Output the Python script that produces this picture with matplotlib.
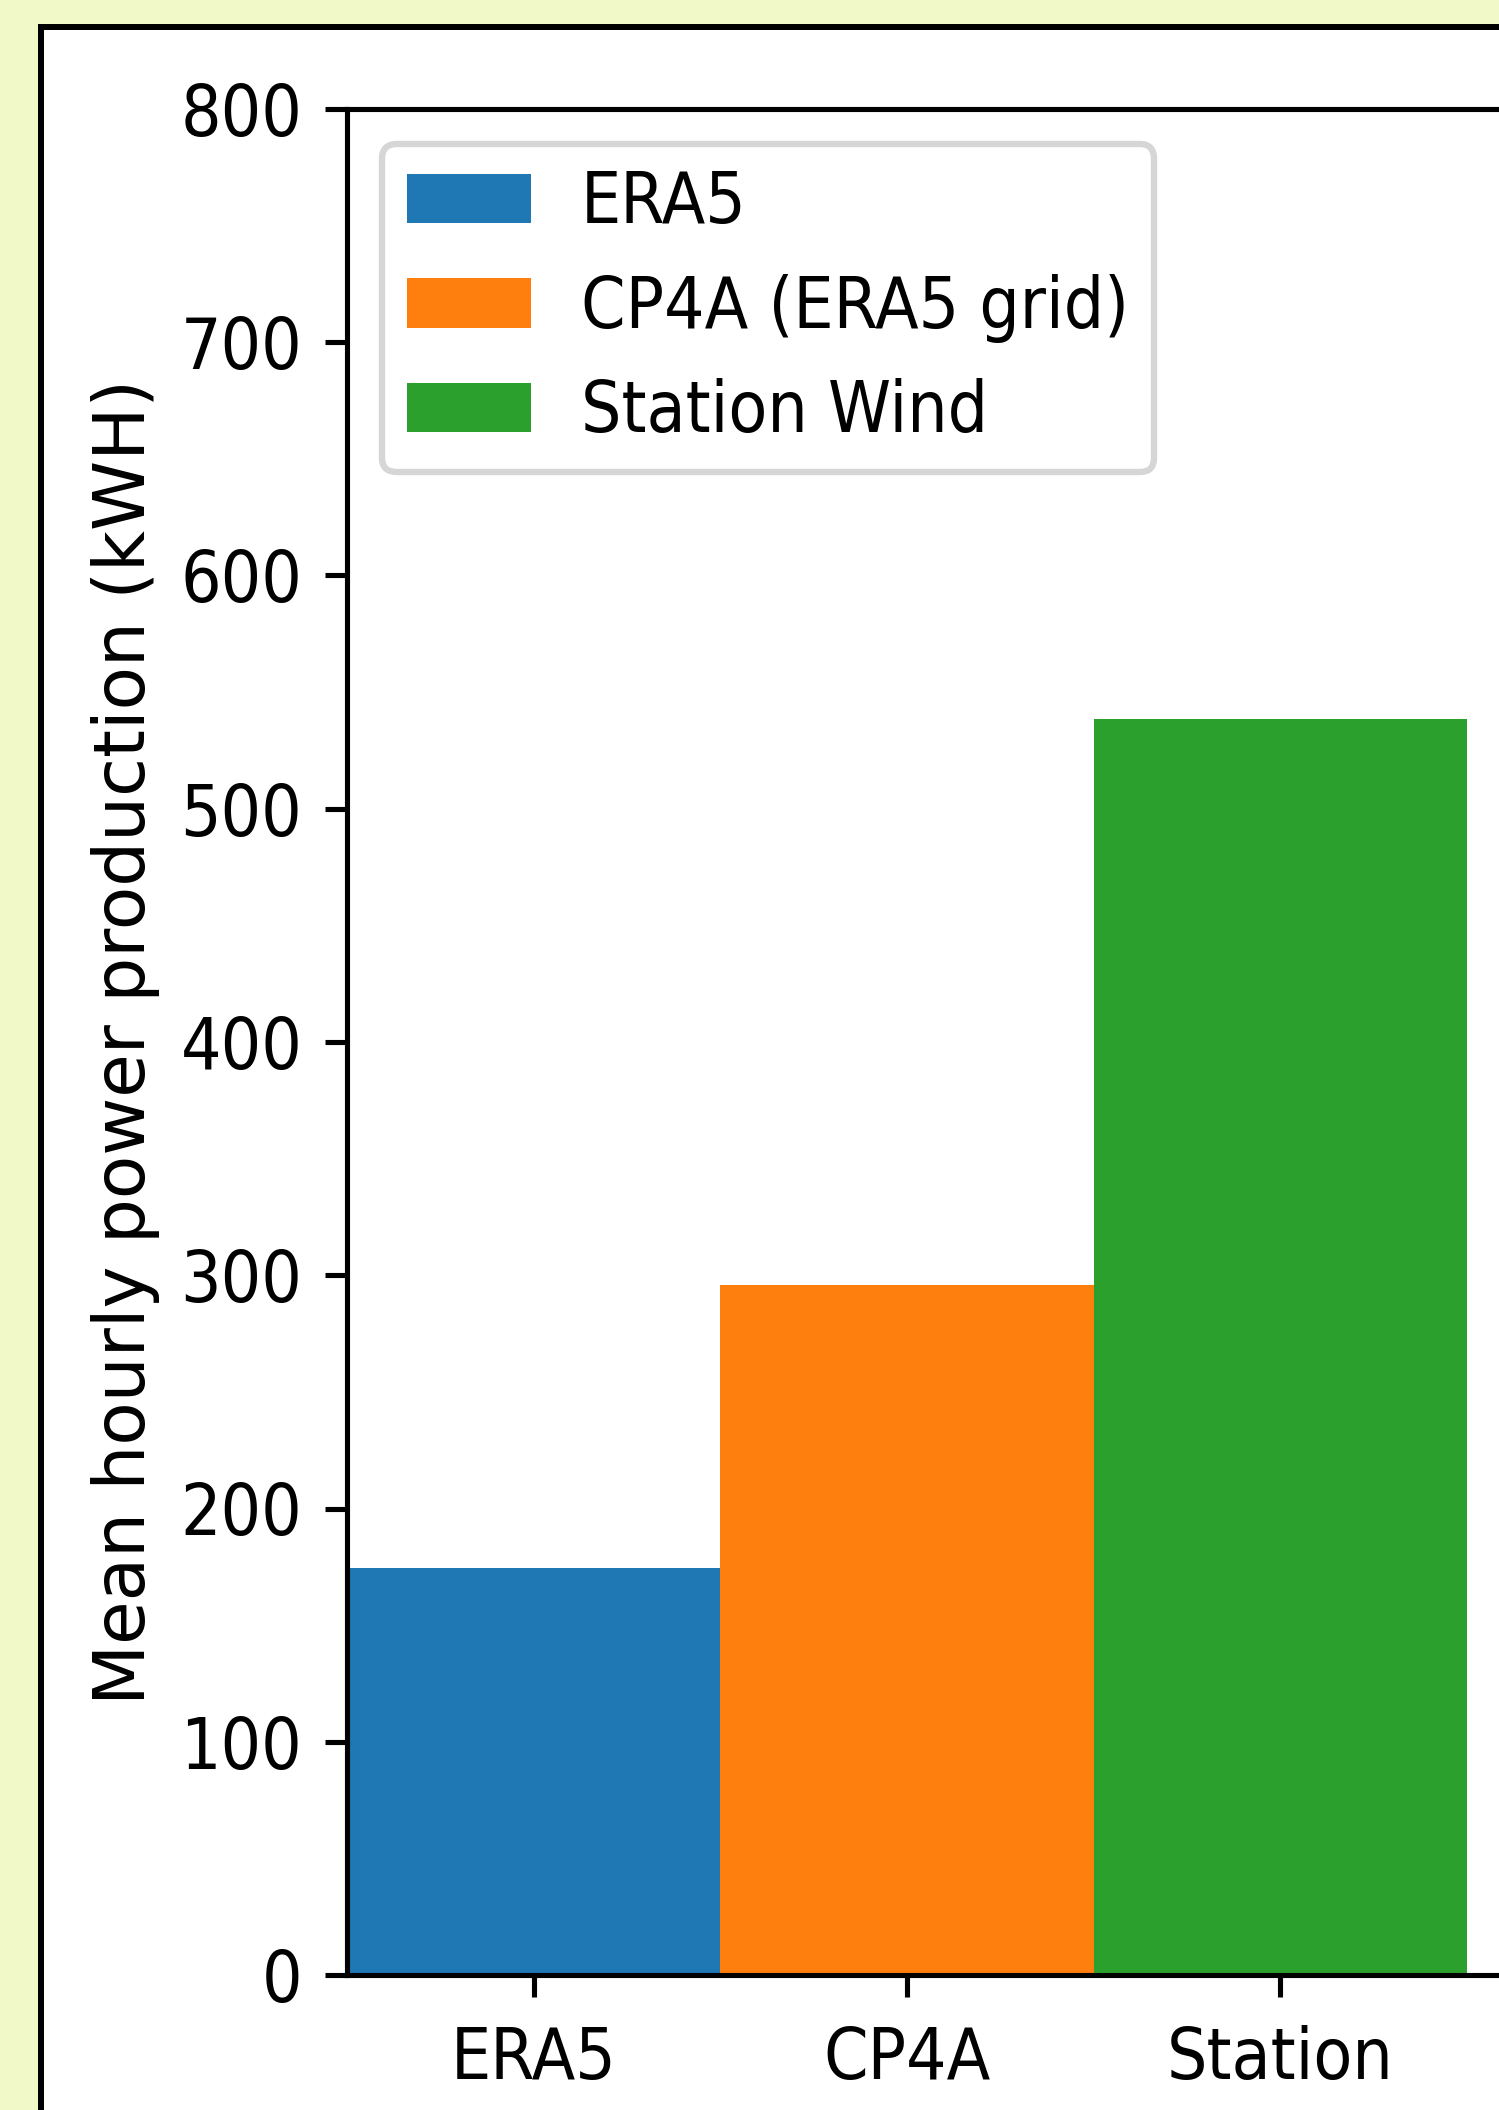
import matplotlib
matplotlib.use("Agg")
import matplotlib.pyplot as plt
from matplotlib import font_manager
from matplotlib.patches import Rectangle

# Mean hourly power production per wind data source
categories = ["ERA5", "CP4A", "Station"]
series_labels = ["ERA5", "CP4A (ERA5 grid)", "Station Wind"]
power_kwh = [174.7, 295.9, 538.6]
bar_colors = ["#1f77b4", "#ff7f0e", "#2ca02c"]
y_ticks = [0, 100, 200, 300, 400, 500, 600, 700, 800]

# Tall, narrow lettering: use the condensed DejaVu face when it is available
cond_path = font_manager.findfont(
    font_manager.FontProperties(family="DejaVu Sans", stretch="condensed"))
has_condensed = "Condensed" in cond_path
if has_condensed:
    plt.rcParams["font.stretch"] = "condensed"
    plt.rcParams["font.size"] = 11.1
else:
    plt.rcParams["font.size"] = 10.5

W, H = 1499, 2110
DPI = 460
PX = 72.0 / DPI  # one pixel in points

fig = plt.figure(figsize=(W / DPI, H / DPI), dpi=DPI, facecolor="#f2f9c8")

# White panel with a black border behind the plot
panel = Rectangle((41 / W, -0.1), 1.2, (1 - 27 / H) + 0.1,
                  transform=fig.transFigure, facecolor="white",
                  edgecolor="black", linewidth=6 * PX, zorder=0)
fig.add_artist(panel)

unit_px = 373.3
x_lo, x_hi = -0.5, 2.65
ax = fig.add_axes([347 / W, (H - 1975) / H,
                   (x_hi - x_lo) * unit_px / W, 1866 / H])
ax.set_facecolor("white")

for i, (val, lab, col) in enumerate(zip(power_kwh, series_labels, bar_colors)):
    ax.bar(i, val, width=1.0, color=col, label=lab)

ax.set_xlim(x_lo, x_hi)
ax.set_ylim(0, 800)
ax.set_yticks(y_ticks)
ax.set_xticks(range(len(categories)), categories)
ax.tick_params(axis="y", length=3.5, pad=3.5)
ax.tick_params(axis="x", length=3.5, pad=4.3)

# The rotated label runs along its length, so it uses the regular width face
ax.set_ylabel("Mean hourly power production (kWH)",
              fontsize=11.1, fontstretch="normal", labelpad=3.2)
ax.legend(loc="upper left", borderaxespad=0.5, borderpad=0.35,
          handlelength=1.75, handletextpad=0.7)

fig.savefig("out.png", dpi=DPI, facecolor=fig.get_facecolor())
